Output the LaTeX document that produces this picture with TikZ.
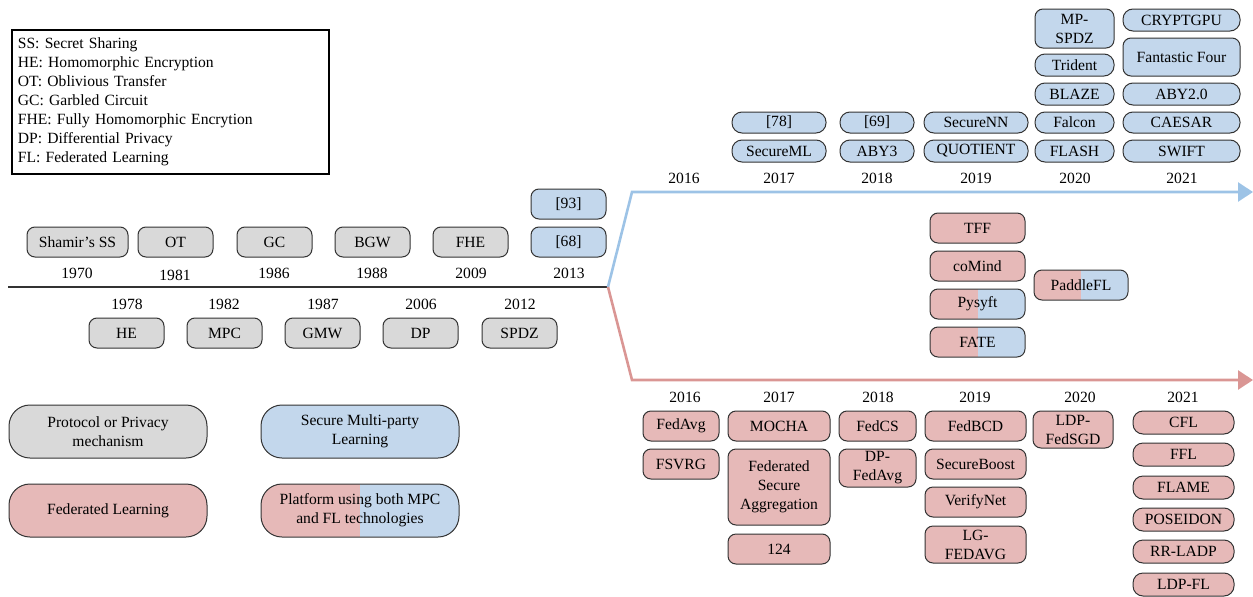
\documentclass[tikz,border=0pt]{standalone}
\usepackage{fontspec}
\setmainfont{Liberation Serif}
\usetikzlibrary{arrows.meta}
\definecolor{grayc}{HTML}{D9D9D9}
\definecolor{bluec}{HTML}{C3D7EC}
\definecolor{redc}{HTML}{E6B9B8}
\definecolor{blueln}{HTML}{9DC3E6}
\definecolor{redln}{HTML}{DA9694}
\definecolor{edgec}{HTML}{333333}
\newcommand\diagfont{\fontsize{15.6}{19}\selectfont}
\newcommand\mybox[7]{%
  \pgfmathsetmacro\bxw{#4-#2}\pgfmathsetmacro\bxh{#5-#3}%
  \pgfmathsetmacro\bxx{(#2+#4)/2}\pgfmathsetmacro\bxy{(#3+#5)/2}%
  \node[#6,minimum width=\bxw pt,minimum height=\bxh pt] (#1) at (\bxx,\bxy) {#7};}
\tikzset{
  basebox/.style={draw=edgec,line width=1pt,rounded corners=8pt,inner sep=0pt,font=\diagfont,align=center},
  gbox/.style={basebox,fill=grayc},
  bbox/.style={basebox,fill=bluec},
  rbox/.style={basebox,fill=redc},
  sbox/.style={basebox,path picture={
      \fill[redc,sharp corners] (path picture bounding box.south west) rectangle (path picture bounding box.north);
      \fill[bluec,sharp corners] (path picture bounding box.south) rectangle (path picture bounding box.north east);}},
  pill/.style={rounded corners=10pt},
  legbox/.style={rounded corners=21pt},
  yr/.style={font=\diagfont,inner sep=0pt},
  mainline/.style={draw=black!80,line width=1.5pt},
  blueline/.style={draw=blueln,line width=2.6pt,-{Triangle[length=15pt,width=19pt]}},
  redline/.style={draw=redln,line width=2.6pt,-{Triangle[length=15pt,width=19pt]}},
}
\begin{document}
\begin{tikzpicture}[x=1pt,y=-1pt]
\useasboundingbox (0,0) rectangle (1253,597);
% legend of abbreviations
\node[draw=black,line width=1.8pt,minimum width=317pt,minimum height=144pt,anchor=north west,
      inner xsep=6pt,inner ysep=0pt,text width=305pt,align=left,font=\diagfont] (abbr) at (11,29)
 {SS: Secret Sharing\\HE: Homomorphic Encryption\\OT: Oblivious Transfer\\GC: Garbled Circuit\\FHE: Fully Homomorphic Encrytion\\DP: Differential Privacy\\FL: Federated Learning};
% main timeline
\coordinate (lstart) at (8,287);
\coordinate (branch) at (608,287);
\coordinate (bturn) at (632,192);
\coordinate (bend) at (1253,192);
\coordinate (rturn) at (632,380);
\coordinate (rend) at (1253,380);
\draw[mainline] (lstart) -- (branch);
\draw[blueline] (branch) -- (bturn) -- (bend);
\draw[redline] (branch) -- (rturn) -- (rend);
% early protocols
\mybox{shamir}{27}{227}{128}{257}{gbox}{Shamir's SS}
\mybox{ot}{138}{227}{213}{257}{gbox}{OT}
\mybox{gc}{237}{227}{312}{257}{gbox}{GC}
\mybox{bgw}{335}{227}{410}{257}{gbox}{BGW}
\mybox{fhe}{433}{227}{508}{257}{gbox}{FHE}
\mybox{r68}{531}{227}{606}{257}{bbox}{[68]}
\mybox{r93}{531}{189}{606}{219}{bbox}{[93]}
\node[yr] (y1970) at (77,273) {1970};
\node[yr] (y1981) at (175,275) {1981};
\node[yr] (y1986) at (274,273) {1986};
\node[yr] (y1988) at (372,273) {1988};
\node[yr] (y2009) at (471,273) {2009};
\node[yr] (y2013) at (569,273) {2013};
\node[yr] (y1978) at (127,304) {1978};
\node[yr] (y1982) at (224,304) {1982};
\node[yr] (y1987) at (323,304) {1987};
\node[yr] (y2006) at (421,304) {2006};
\node[yr] (y2012) at (520,304) {2012};
\mybox{he}{89}{318}{164}{348}{gbox}{HE}
\mybox{mpc}{187}{318}{262}{348}{gbox}{MPC}
\mybox{gmw}{285}{318}{360}{348}{gbox}{GMW}
\mybox{dp}{383}{318}{458}{348}{gbox}{DP}
\mybox{spdz}{482}{318}{557}{348}{gbox}{SPDZ}
% secure multi-party learning (blue)
\node[yr] (b2016) at (684,178) {2016};
\node[yr] (b2017) at (779,178) {2017};
\node[yr] (b2018) at (877,178) {2018};
\node[yr] (b2019) at (976,178) {2019};
\node[yr] (b2020) at (1075,178) {2020};
\node[yr] (b2021) at (1182,178) {2021};
\mybox{secureml}{732}{140}{826}{162}{bbox,pill}{SecureML}
\mybox{r78}{732}{112}{826}{133}{bbox,pill}{[78]}
\mybox{aby3}{840}{140}{914}{162}{bbox,pill}{ABY3}
\mybox{r69}{840}{112}{914}{133}{bbox,pill}{[69]}
\mybox{quotient}{924}{140}{1028}{162}{bbox,pill}{QUOTIENT}
\mybox{securenn}{924}{112}{1028}{133}{bbox,pill}{SecureNN}
\mybox{flash}{1035}{140}{1114}{162}{bbox,pill}{FLASH}
\mybox{falcon}{1035}{112}{1114}{133}{bbox,pill}{Falcon}
\mybox{blaze}{1035}{83}{1114}{105}{bbox,pill}{BLAZE}
\mybox{trident}{1035}{54}{1114}{76}{bbox,pill}{Trident}
\mybox{mpspdz}{1035}{9}{1114}{48}{bbox}{MP-\\SPDZ}
\mybox{swift}{1123}{140}{1240}{162}{bbox,pill}{SWIFT}
\mybox{caesar}{1123}{112}{1240}{133}{bbox,pill}{CAESAR}
\mybox{aby20}{1123}{83}{1240}{105}{bbox,pill}{ABY2.0}
\mybox{fantastic}{1123}{38}{1240}{76}{bbox}{Fantastic Four}
\mybox{cryptgpu}{1123}{9}{1240}{31}{bbox,pill}{CRYPTGPU}
% platforms
\mybox{tff}{930}{213}{1025}{243}{rbox}{TFF}
\mybox{comind}{930}{251}{1025}{281}{rbox}{coMind}
\mybox{pysyft}{930}{289}{1025}{319}{sbox}{Pysyft}
\mybox{fate}{930}{327}{1025}{357}{sbox}{FATE}
\mybox{paddle}{1034}{270}{1128}{300}{sbox}{PaddleFL}
% federated learning (red)
\node[yr] (r2016) at (685,397) {2016};
\node[yr] (r2017) at (779,397) {2017};
\node[yr] (r2018) at (878,397) {2018};
\node[yr] (r2019) at (975,397) {2019};
\node[yr] (r2020) at (1080,397) {2020};
\node[yr] (r2021) at (1183,397) {2021};
\mybox{fedavg}{643}{411}{719}{441}{rbox}{FedAvg}
\mybox{fsvrg}{643}{449}{719}{479}{rbox}{FSVRG}
\mybox{mocha}{728}{411}{830}{441}{rbox}{MOCHA}
\mybox{fsa}{728}{449}{830}{525}{rbox}{Federated\\Secure\\Aggregation}
\mybox{n124}{728}{534}{830}{564}{rbox}{124}
\mybox{fedcs}{839}{411}{916}{441}{rbox}{FedCS}
\mybox{dpfedavg}{839}{449}{916}{487}{rbox}{DP-\\FedAvg}
\mybox{fedbcd}{925}{411}{1026}{441}{rbox}{FedBCD}
\mybox{secureboost}{925}{449}{1026}{479}{rbox}{SecureBoost}
\mybox{verifynet}{925}{487}{1026}{517}{rbox}{VerifyNet}
\mybox{lgfedavg}{925}{526}{1026}{563}{rbox}{LG-\\FEDAVG}
\mybox{ldpfedsgd}{1033}{411}{1113}{448}{rbox}{LDP-\\FedSGD}
\mybox{cfl}{1133}{411}{1234}{434}{rbox,pill}{CFL}
\mybox{ffl}{1133}{443}{1234}{466}{rbox,pill}{FFL}
\mybox{flame}{1133}{476}{1234}{499}{rbox,pill}{FLAME}
\mybox{poseidon}{1133}{508}{1234}{531}{rbox,pill}{POSEIDON}
\mybox{rrladp}{1133}{540}{1234}{563}{rbox,pill}{RR-LADP}
\mybox{ldpfl}{1133}{573}{1234}{596}{rbox,pill}{LDP-FL}
% colour legend
\mybox{lprot}{9}{405}{207}{458}{gbox,legbox}{Protocol or Privacy\\mechanism}
\mybox{lsml}{261}{405}{459}{458}{bbox,legbox}{Secure Multi-party\\Learning}
\mybox{lfl}{9}{484}{207}{537}{rbox,legbox}{Federated Learning}
\mybox{lplat}{261}{484}{459}{537}{sbox,legbox}{Platform using both MPC\\and FL technologies}
\end{tikzpicture}
\end{document}
